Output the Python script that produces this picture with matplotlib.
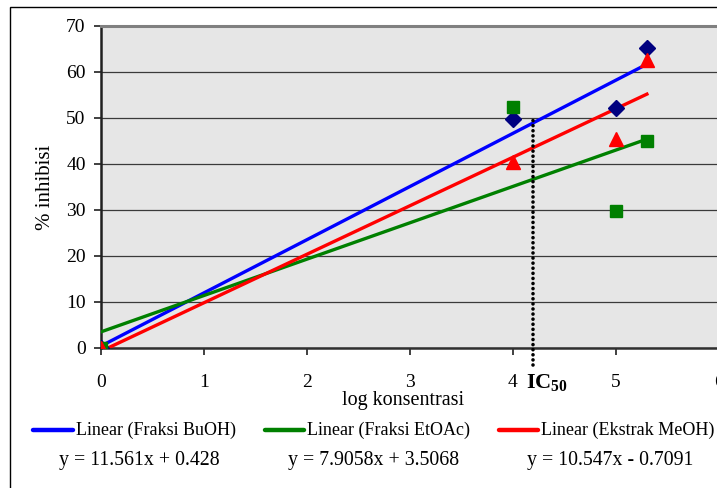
import matplotlib
matplotlib.use('Agg')
import matplotlib.pyplot as plt
import numpy as np
from matplotlib.lines import Line2D
from matplotlib.patches import Rectangle

plt.rcParams['font.family'] = ['Liberation Serif', 'DejaVu Serif']
plt.rcParams['mathtext.fontset'] = 'custom'
plt.rcParams['mathtext.rm'] = 'Liberation Serif'
plt.rcParams['mathtext.bf'] = 'Liberation Serif:bold'

# data
log_konsentrasi = [0, 4, 5, 5.3]
buoh = [0, 49.8, 52.2, 65.2]
etoac = [0, 52.5, 29.7, 45.0]
meoh = [0, 40.5, 45.4, 62.7]

# trendline coefficients (slope, intercept) from the equations shown
fits = [(11.561, 0.428), (7.9058, 3.5068), (10.547, -0.7091)]
nama = ['Linear (Fraksi BuOH)', 'Linear (Fraksi EtOAc)', 'Linear (Ekstrak MeOH)']
persamaan = ['y = 11.561x + 0.428', 'y = 7.9058x + 3.5068', 'y = 10.547x - 0.7091']
ic50_x = 4.19

warna_garis = ['#0000ff', '#008000', '#ff0000']

fig = plt.figure(figsize=(7.17, 4.88), dpi=100)
ax = fig.add_axes([101/717, 140/488, 618/717, 322/488])
ax.set_facecolor('#e6e6e6')

ax.set_xlim(0, 6)
ax.set_ylim(0, 70)
ax.set_yticks(np.arange(0, 71, 10))
ax.set_xticks(np.arange(0, 7, 1))
ax.yaxis.grid(True, color='#3a3a3a', lw=0.9)
ax.set_axisbelow(True)

ax.spines['right'].set_visible(False)
ax.spines['top'].set_color('#808080')
ax.spines['top'].set_linewidth(2.2)
ax.spines['left'].set_color('#202020')
ax.spines['left'].set_linewidth(1.8)
ax.spines['bottom'].set_color('#303030')
ax.spines['bottom'].set_linewidth(1.8)

ax.tick_params(axis='both', labelsize=14, direction='out', length=5, width=1.2, color='#202020')
ax.tick_params(axis='x', pad=14)
ax.tick_params(axis='y', pad=6)

xs = np.array([0, 5.3])
for (m, c), col in zip(fits, warna_garis):
    ax.plot(xs, m * xs + c, color=col, lw=2.4, zorder=3)

ax.plot(log_konsentrasi, buoh, linestyle='none', marker='D', ms=8, color='#000080', zorder=4)
ax.plot(log_konsentrasi, etoac, linestyle='none', marker='s', ms=9, color='#008000', zorder=4)
ax.plot(log_konsentrasi, meoh, linestyle='none', marker='^', ms=10, color='#ff0000', zorder=4)

ax.plot([ic50_x, ic50_x], [-3.8, 50], color='black', lw=2.6, linestyle=(0, (0.01, 1.4)),
        dash_capstyle='round', clip_on=False, zorder=5)
ax.text(4.13, -7.6, r'$\mathbf{IC_{50}}$', fontsize=16, ha='left', va='center', zorder=6)

fig.text(403/717, 1 - 400/488, 'log konsentrasi', fontsize=14.5, ha='center', va='center')
fig.text(45/717, 1 - 187/488, '% inhibisi', fontsize=15, ha='center', va='center', rotation=90)

# legend rows, placed by hand
handle_x = [(33, 73), (265, 304), (499, 538)]
eq_x = [139, 374, 610]
for (x0, x1), col, lab, eq, ex in zip(handle_x, warna_garis, nama, persamaan, eq_x):
    fig.add_artist(Line2D([x0/717, x1/717], [1 - 430/488] * 2, color=col, lw=3.2,
                          solid_capstyle='round'))
    fig.text((x1 + 3)/717, 1 - 430/488, lab, fontsize=13, ha='left', va='center')
    fig.text(ex/717, 1 - 461/488, eq, fontsize=14.3, ha='center', va='center')

fig.add_artist(Rectangle((10/717, -0.1), 1.2, 1 - 7/488 + 0.1, transform=fig.transFigure,
                         fill=False, edgecolor='black', lw=1.0))

fig.savefig('out.png', dpi=100)
